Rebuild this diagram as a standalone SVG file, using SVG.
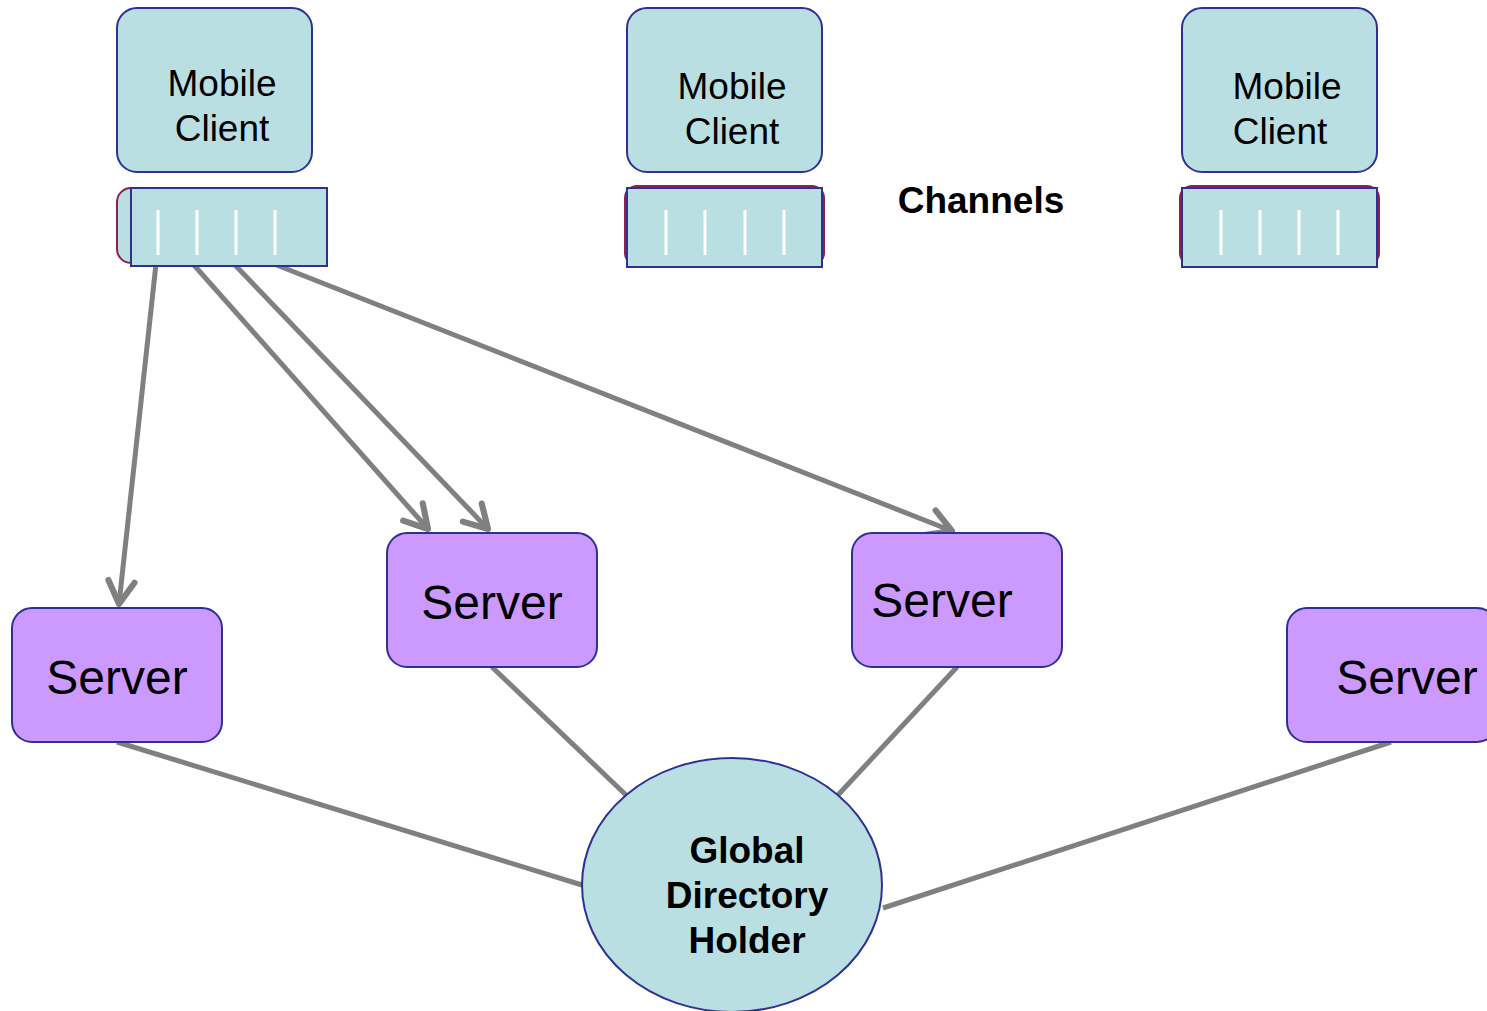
<svg xmlns="http://www.w3.org/2000/svg" width="1487" height="1011" viewBox="0 0 1487 1011">
  <style>
    .client { fill: #b9dfe2; stroke: #2e3192; stroke-width: 2; }
    .chan-back { fill: #b9dfe2; stroke: #8b2252; stroke-width: 2; }
    .chan-front { fill: #b9dfe2; stroke: #2e3192; stroke-width: 2; }
    .slot { stroke: #ffffff; stroke-width: 3; }
    .server { fill: #cc99ff; stroke: #2e3192; stroke-width: 2; }
    .dir { fill: #b9dfe2; stroke: #2e3192; stroke-width: 2; }
    .t-client { font-family: "Liberation Sans", Arial, sans-serif; font-size: 37px; fill: #000; text-anchor: middle; }
    .t-server { font-family: "Liberation Sans", Arial, sans-serif; font-size: 48px; fill: #000; text-anchor: middle; }
    .t-bold { font-family: "Liberation Sans", Arial, sans-serif; font-size: 37px; font-weight: bold; fill: #000; text-anchor: middle; }
    .link { stroke: #808080; stroke-width: 5; fill: none; }
  </style>
  <defs>
    <marker id="head" viewBox="0 0 20 20" refX="16" refY="10" markerWidth="7" markerHeight="7" orient="auto" markerUnits="strokeWidth">
      <path d="M3,2.5 L16,10 L3,17.5" fill="none" stroke="#808080" stroke-width="3.5" stroke-linecap="round" stroke-linejoin="round"/>
    </marker>
  </defs>

  <rect width="1487" height="1011" fill="#ffffff"/>

  <!-- connectors -->
  <g id="connectors">
    <line class="link" x1="156" y1="264" x2="119" y2="604" marker-end="url(#head)"/>
    <line class="link" x1="193" y1="264" x2="428" y2="529" marker-end="url(#head)"/>
    <line class="link" x1="234" y1="264" x2="488" y2="529" marker-end="url(#head)"/>
    <line class="link" x1="274" y1="264" x2="952" y2="531" marker-end="url(#head)"/>
    <line class="link" x1="117" y1="742" x2="582" y2="885"/>
    <line class="link" x1="492" y1="667" x2="626" y2="795"/>
    <line class="link" x1="957" y1="667" x2="838" y2="795"/>
    <line class="link" x1="1391" y1="742" x2="883" y2="908"/>
  </g>

  <!-- mobile clients -->
  <g id="client-1">
    <rect class="client" x="117" y="8" width="195" height="164" rx="20"/>
    <text class="t-client" x="222" y="96">Mobile</text>
    <text class="t-client" x="222" y="141">Client</text>
  </g>
  <g id="client-2">
    <rect class="client" x="627" y="8" width="195" height="164" rx="20"/>
    <text class="t-client" x="732" y="99">Mobile</text>
    <text class="t-client" x="732" y="144">Client</text>
  </g>
  <g id="client-3">
    <rect class="client" x="1182" y="8" width="195" height="164" rx="20"/>
    <text class="t-client" x="1287" y="99">Mobile</text>
    <text class="t-client" x="1280" y="144">Client</text>
  </g>

  <!-- channels -->
  <g id="channels-1">
    <rect class="chan-back" x="117" y="188" width="190" height="75" rx="14"/>
    <rect class="chan-front" x="131" y="188" width="196" height="78"/>
    <line class="slot" x1="158" y1="210" x2="158" y2="255"/>
    <line class="slot" x1="197" y1="210" x2="197" y2="255"/>
    <line class="slot" x1="236" y1="210" x2="236" y2="255"/>
    <line class="slot" x1="275" y1="210" x2="275" y2="255"/>
  </g>
  <g id="channels-2">
    <rect class="chan-back" x="625" y="186" width="199" height="79" rx="12" stroke-width="6"/>
    <rect class="chan-front" x="627" y="188" width="195" height="79"/>
    <line class="slot" x1="666" y1="210" x2="666" y2="255"/>
    <line class="slot" x1="705" y1="210" x2="705" y2="255"/>
    <line class="slot" x1="745" y1="210" x2="745" y2="255"/>
    <line class="slot" x1="784" y1="210" x2="784" y2="255"/>
  </g>
  <g id="channels-3">
    <rect class="chan-back" x="1180" y="186" width="199" height="79" rx="12" stroke-width="6"/>
    <rect class="chan-front" x="1182" y="188" width="195" height="79"/>
    <line class="slot" x1="1221" y1="210" x2="1221" y2="255"/>
    <line class="slot" x1="1260" y1="210" x2="1260" y2="255"/>
    <line class="slot" x1="1299" y1="210" x2="1299" y2="255"/>
    <line class="slot" x1="1338" y1="210" x2="1338" y2="255"/>
  </g>

  <g id="channels-label">
    <text class="t-bold" x="981" y="213">Channels</text>
  </g>

  <!-- servers -->
  <g id="server-1">
    <rect class="server" x="12" y="608" width="210" height="134" rx="20"/>
    <text class="t-server" x="117" y="694">Server</text>
  </g>
  <g id="server-2">
    <rect class="server" x="387" y="533" width="210" height="134" rx="20"/>
    <text class="t-server" x="492" y="619">Server</text>
  </g>
  <g id="server-3">
    <rect class="server" x="852" y="533" width="210" height="134" rx="20"/>
    <text class="t-server" x="942" y="617">Server</text>
  </g>
  <g id="server-4">
    <rect class="server" x="1287" y="608" width="210" height="134" rx="20"/>
    <text class="t-server" x="1407" y="694">Server</text>
  </g>

  <!-- directory -->
  <g id="directory">
    <ellipse class="dir" cx="732" cy="885" rx="150" ry="127"/>
    <text class="t-bold" x="747" y="863">Global</text>
    <text class="t-bold" x="747" y="908">Directory</text>
    <text class="t-bold" x="747" y="953">Holder</text>
  </g>
</svg>
